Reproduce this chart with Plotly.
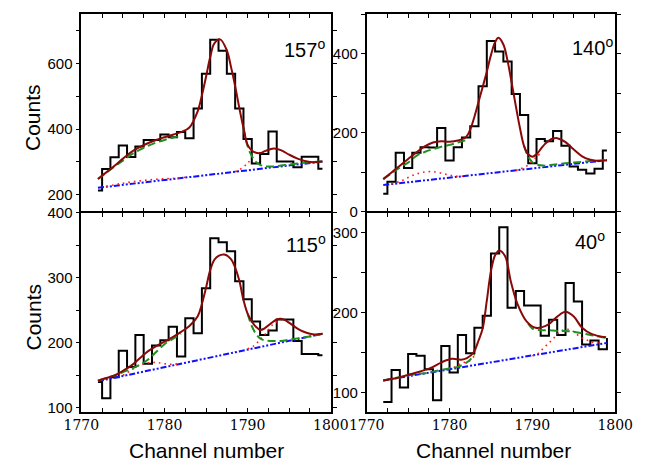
import plotly.graph_objects as go

W, H = 654, 468

# ---------------- data ----------------
channels = list(range(1772, 1800))

# 157 deg (top-left)
hist157 = [213, 278, 314, 350, 315, 347, 367, 367, 384, 375, 391, 372, 463, 569,
           673, 639, 569, 463, 370, 295, 324, 393, 301, 301, 284, 316, 316, 279]
fit157_x = [1772, 1773, 1774, 1775, 1776, 1777, 1778, 1779, 1780, 1781, 1782, 1783,
            1784, 1784.5, 1785, 1785.5, 1786, 1786.7, 1787.5, 1788, 1788.5, 1789,
            1789.5, 1790, 1790.5, 1791, 1791.5, 1792, 1792.5, 1793.2, 1794, 1795,
            1796, 1797, 1798, 1799]
fit157_y = [248, 268, 288, 310, 330, 345, 357, 367, 375, 383, 391, 405,
            455, 503, 560, 620, 662, 674, 640, 590, 531, 465,
            404, 352, 335, 328, 327, 332, 337, 341, 336, 322,
            310, 302, 299, 301]
gl157_x = [1772, 1773, 1774, 1775, 1776, 1777, 1778, 1779, 1780, 1781, 1782]
gl157_y = [248, 267, 286, 304, 322, 337, 349, 359, 367, 374, 380]
gr157_x = [1789.5, 1790, 1790.5, 1791, 1791.5, 1792, 1793, 1794, 1795, 1796, 1797, 1798, 1799]
gr157_y = [404, 348, 318, 300, 291, 287, 286, 289, 292, 295, 298, 300, 302]
rl157_x = [1773, 1775, 1777, 1779, 1781, 1783]
rl157_y = [225, 235, 242, 247, 250, 254]
rr157_x = [1788.5, 1789, 1789.5, 1790, 1790.5]
rr157_y = [270, 276, 285, 296, 310]
bg157_x = [1772, 1799]
bg157_y = [221, 301]

# 140 deg (top-right)
hist140 = [45, 75, 149, 110, 149, 163, 162, 212, 129, 163, 188, 216, 318, 433,
           406, 381, 298, 245, 122, 184, 178, 204, 167, 114, 106, 96, 108, 155]
fit140_x = [1772, 1773, 1774, 1775, 1776, 1777, 1778, 1779, 1780, 1781, 1782, 1782.5,
            1783, 1783.5, 1784, 1784.5, 1785, 1785.5, 1785.9, 1786.5, 1787, 1787.5,
            1788, 1788.5, 1789, 1789.5, 1790, 1790.5, 1791, 1791.5, 1792, 1792.5,
            1793, 1793.5, 1794, 1795, 1796, 1797, 1798, 1799]
fit140_y = [82, 99, 116, 133, 150, 165, 175, 178, 177, 180, 189, 208,
            240, 278, 316, 355, 397, 430, 441, 424, 383, 327,
            268, 212, 166, 145, 139, 145, 158, 171, 180, 185,
            186, 182, 176, 157, 140, 131, 128, 130]
gl140_x = [1772, 1773, 1774, 1775, 1776, 1777, 1778, 1779, 1780, 1781, 1782]
gl140_y = [82, 97, 111, 124, 141, 151, 158, 164, 169, 175, 181]
gr140_x = [1789, 1789.5, 1790, 1790.5, 1791, 1791.5, 1792, 1793, 1794, 1795, 1796, 1797, 1798, 1799]
gr140_y = [166, 139, 125, 119, 117, 116, 117, 120, 122, 124, 126, 128, 129, 130]
rl140_x = [1773, 1774, 1775, 1776, 1777, 1778, 1779, 1780, 1781, 1782]
rl140_y = [70, 76, 86, 95, 100, 101, 97, 92, 89, 90]
rr140_x = [1788, 1788.5, 1789, 1789.5, 1790, 1790.5, 1791]
rr140_y = [104, 108, 112, 118, 128, 138, 148]
bg140_x = [1772, 1799]
bg140_y = [67, 130]

# 115 deg (bottom-left)
hist115 = [140, 115, 147, 188, 163, 212, 168, 196, 204, 225, 179, 238, 215, 284,
           361, 355, 341, 295, 267, 233, 212, 219, 236, 236, 203, 183, 183, 181]
fit115_x = [1772, 1773, 1774, 1775, 1776, 1777, 1778, 1779, 1780, 1781, 1782, 1783,
            1784, 1784.5, 1785, 1785.5, 1786, 1786.5, 1787.2, 1788, 1788.5, 1789,
            1789.5, 1790, 1790.5, 1791, 1791.5, 1792, 1792.8, 1793.5, 1794, 1794.5,
            1795.1, 1796, 1796.6, 1797.5, 1798.1, 1799]
fit115_y = [142, 146, 150, 157, 165, 176, 187, 195, 202, 209, 217, 226,
            241, 260, 285, 312, 328, 334, 336, 329, 316, 296,
            266, 245, 233, 225, 220, 222, 230, 236, 237, 235,
            230, 222, 218, 214, 213, 214]
gl115_x = [1772, 1773, 1774, 1775, 1776, 1777, 1778, 1779, 1780, 1781, 1782]
gl115_y = [142, 146, 150, 155, 160, 166, 174, 186, 198, 206, 214]
gr115_x = [1790, 1790.5, 1791, 1791.5, 1792, 1793, 1794, 1795, 1796, 1797, 1798, 1799]
gr115_y = [245, 226, 214, 207, 204, 203, 203, 205, 207, 209, 211, 214]
rl115_x = [1775, 1776, 1777, 1778, 1779, 1780, 1781, 1782]
rl115_y = [150, 158, 166, 169, 170, 168, 167, 169]
rr115_x = [1790, 1790.7, 1791.5, 1792.4, 1793, 1793.6, 1794.3]
rr115_y = [191, 195, 205, 218, 228, 233, 237]
bg115_x = [1772, 1799]
bg115_y = [141, 214]

# 40 deg (bottom-right)
hist40 = [88, 128, 106, 148, 146, 129, 90, 158, 125, 172, 149, 181, 196, 274,
          307, 206, 227, 209, 209, 171, 191, 172, 237, 214, 160, 165, 154, 168]
fit40_x = [1772, 1774, 1775.7, 1777.6, 1779.1, 1780.3, 1781.4, 1782.1, 1782.9, 1783.5,
           1784, 1784.5, 1785, 1785.5, 1786, 1786.7, 1787.4, 1788.2, 1789.3, 1790.4,
           1791.9, 1793, 1794, 1795, 1796, 1797.2, 1798.9]
fit40_y = [115, 119, 124, 130, 138, 142, 141, 143, 150, 165,
           180, 215, 252, 272, 278, 271, 239, 211, 189, 181,
           185, 195, 201, 195, 181, 173, 169]
gl40_x = [1772, 1774, 1776, 1777, 1778, 1779, 1780, 1781, 1782, 1782.5, 1783]
gl40_y = [115, 119, 123, 124, 126, 128, 130, 132, 137, 141, 148]
gr40_x = [1789.5, 1790, 1791, 1792, 1793, 1794, 1795, 1796, 1797, 1798, 1799]
gr40_y = [186, 180, 178, 178, 177, 177, 176, 174, 172, 170, 168]
rl40_x = [1780.5, 1781, 1781.5, 1782, 1782.5, 1783]
rl40_y = [131, 134, 137, 138, 140, 146]
rr40_x = [1790, 1790.6, 1791.3, 1792, 1792.5, 1793, 1793.5, 1794.2, 1795, 1795.7, 1796.5, 1797.2, 1798]
rr40_y = [146, 148, 155, 162, 167, 173, 177, 179, 176, 170, 166, 163, 162]
bg40_x = [1772, 1799]
bg40_y = [115, 162]

angle_labels = ["157", "140", "115", "40"]

# ---------------- styling ----------------
C_HIST = "black"
C_FIT = "#8a0808"
C_GREEN = "#1f8f1f"
C_BLUE = "#1010ff"
C_RED = "#ff1a1a"

fig = go.Figure()


def px(x):
    return x / W


def py(y):
    return 1 - y / H


panels = [
    dict(ax="", hist=hist157, shape="hvh", fit=(fit157_x, fit157_y),
         gl=(gl157_x, gl157_y), gr=(gr157_x, gr157_y),
         rl=(rl157_x, rl157_y), rr=(rr157_x, rr157_y), bg=(bg157_x, bg157_y)),
    dict(ax="2", hist=hist140, shape="hvh", fit=(fit140_x, fit140_y),
         gl=(gl140_x, gl140_y), gr=(gr140_x, gr140_y),
         rl=(rl140_x, rl140_y), rr=(rr140_x, rr140_y), bg=(bg140_x, bg140_y)),
    dict(ax="3", hist=hist115, shape="hvh", fit=(fit115_x, fit115_y),
         gl=(gl115_x, gl115_y), gr=(gr115_x, gr115_y),
         rl=(rl115_x, rl115_y), rr=(rr115_x, rr115_y), bg=(bg115_x, bg115_y)),
    dict(ax="4", hist=hist40, shape="hv", fit=(fit40_x, fit40_y),
         gl=(gl40_x, gl40_y), gr=(gr40_x, gr40_y),
         rl=(rl40_x, rl40_y), rr=(rr40_x, rr40_y), bg=(bg40_x, bg40_y)),
]

for p in panels:
    xa, ya = "x" + p["ax"], "y" + p["ax"]
    common = dict(xaxis=xa, yaxis=ya, mode="lines", showlegend=False, hoverinfo="skip")
    fig.add_trace(go.Scatter(x=channels, y=p["hist"],
                             line=dict(color=C_HIST, width=2, shape=p["shape"]), **common))
    fig.add_trace(go.Scatter(x=p["bg"][0], y=p["bg"][1],
                             line=dict(color=C_BLUE, width=2,
                                       dash="6px,2px,2px,2px,2px,2px"), **common))
    for key in ("rl", "rr"):
        fig.add_trace(go.Scatter(x=p[key][0], y=p[key][1],
                                 line=dict(color=C_RED, width=1.6, dash="1.6px,4px",
                                           shape="spline"), **common))
    for key in ("gl", "gr"):
        fig.add_trace(go.Scatter(x=p[key][0], y=p[key][1],
                                 line=dict(color=C_GREEN, width=2, dash="8px,4px",
                                           shape="spline"), **common))
    fig.add_trace(go.Scatter(x=p["fit"][0], y=p["fit"][1],
                             line=dict(color=C_FIT, width=2, shape="spline"), **common))

LW = 1.6
xL = [px(67), px(331)]
xR = [px(369), px(632)]
yT = [py(210), py(5)]
yB = [py(418), py(210 + LW)]

xtick_font = dict(family="DejaVu Serif", size=14, color="black")
ytick_font = dict(family="Liberation Sans, Arial", size=15, color="black")


def xaxis(domain, anchor, labels):
    return dict(domain=domain, anchor=anchor, range=[1770, 1800],
                tickmode="linear", tick0=1770, dtick=10, showticklabels=labels,
                ticks="inside", ticklen=4, tickwidth=1.2, tickcolor="black",
                minor=dict(dtick=2.5, tick0=1770, ticks="inside", ticklen=4,
                           tickwidth=1.2, tickcolor="black", showgrid=False),
                showline=True, linewidth=LW, linecolor="black", mirror="ticks",
                showgrid=False, zeroline=False, tickfont=xtick_font)


def yaxis(domain, anchor, rng, major, minor):
    return dict(domain=domain, anchor=anchor, range=rng,
                tickmode="linear", tick0=0, dtick=major,
                ticks="outside", ticklen=4, tickwidth=1.2, tickcolor="black",
                minor=dict(dtick=minor, tick0=0, ticks="outside", ticklen=4,
                           tickwidth=1.2, tickcolor="black", showgrid=False),
                showline=True, linewidth=LW, linecolor="black", mirror="ticks",
                showgrid=False, zeroline=False, tickfont=ytick_font)


fig.update_layout(
    width=W, height=H, margin=dict(l=0, r=0, t=0, b=0),
    paper_bgcolor="white", plot_bgcolor="white",
    xaxis=xaxis(xL, "y", False),
    xaxis2=xaxis(xR, "y2", False),
    xaxis3=xaxis(xL, "y3", True),
    xaxis4=xaxis(xR, "y4", True),
    yaxis=yaxis(yT, "x", [149, 752], 200, 100),
    yaxis2=yaxis(yT, "x2", [0, 502], 200, 100),
    yaxis3=yaxis(yB, "x3", [94, 400], 100, 50),
    yaxis4=yaxis(yB, "x4", [75.6, 325], 100, 50),
)

label_font = dict(family="Liberation Sans, Arial", size=20, color="black")
title_font = dict(family="Liberation Sans, Arial", size=21, color="black")

annotations = []
for txt, (x0, y0) in zip(angle_labels, [(279, 41), (584, 39), (281, 243), (587, 240)]):
    annotations.append(dict(text=txt + "<sup>o</sup>", x=px(x0), y=py(y0), xref="paper", yref="paper",
                            xanchor="left", yanchor="middle", showarrow=False, font=label_font))
for yc in (113, 320):
    annotations.append(dict(text="Counts", x=px(16), y=py(yc), xref="paper", yref="paper",
                            xanchor="center", yanchor="middle", textangle=-90,
                            showarrow=False, font=title_font))
for xc in (200, 503):
    annotations.append(dict(text="Channel number", x=px(xc), y=py(458), xref="paper", yref="paper",
                            xanchor="center", yanchor="middle", showarrow=False, font=title_font))
fig.update_layout(annotations=annotations)

fig.write_html("out.html")
